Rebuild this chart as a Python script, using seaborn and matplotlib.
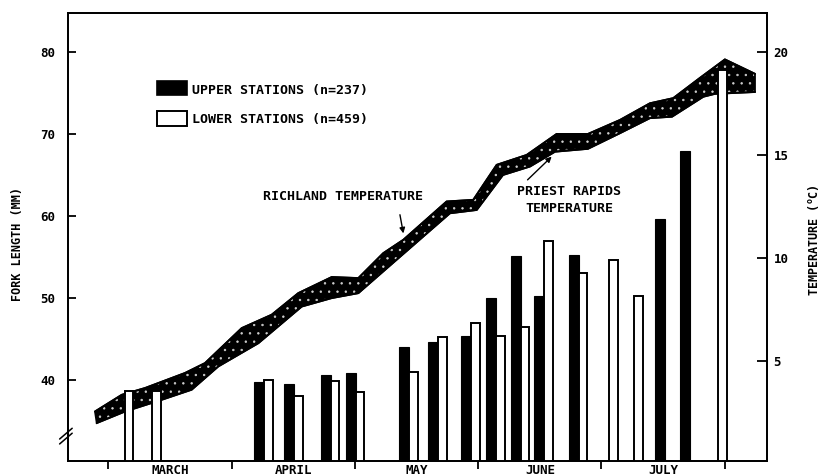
import numpy as np
import matplotlib
matplotlib.use("Agg")
import matplotlib.pyplot as plt
import seaborn as sns
from matplotlib.patches import Rectangle

nan = np.nan

# ---- data (x in months since 1 March) ----
sample_month = [0.135, 0.357, 1.263, 1.508, 1.804, 2.006, 2.441, 2.676, 2.944,
                3.147, 3.347, 3.536, 3.815, 4.063, 4.266, 4.517, 4.718, 4.947]
upper_len = [nan, nan, 39.8, 39.5, 40.6, 40.9, 44.0, 44.6, 45.4,
             50.0, 55.1, 50.2, 55.2, nan, nan, 59.7, 68.0, nan]
lower_len = [38.7, 38.7, 40.0, 38.0, 39.9, 38.5, 41.0, 45.3, 47.0,
             45.4, 46.5, 57.0, 53.0, 54.7, 50.2, nan, nan, 77.8]

richland_month = [-0.108, 0.109, 0.298, 0.622, 0.784, 1.082, 1.325, 1.541, 1.812,
                  2.028, 2.230, 2.393, 2.744, 2.960, 3.150, 3.393, 3.636, 3.890,
                  4.150, 4.393, 4.582, 4.798, 5.001, 5.245]
richland_temp = [2.55, 3.36, 3.69, 4.42, 4.90, 6.60, 7.25, 8.30, 9.08,
                 9.03, 10.24, 10.89, 12.75, 12.83, 14.53, 15.01, 16.03, 16.03,
                 16.71, 17.52, 17.77, 18.75, 19.65, 18.95]

priest_month = [-0.094, 0.135, 0.433, 0.676, 0.892, 1.217, 1.569, 1.812, 2.028,
                2.244, 2.771, 2.988, 3.201, 3.420, 3.623, 3.890, 4.150, 4.393,
                4.572, 4.826, 4.920, 5.245]
priest_temp = [1.99, 2.55, 3.12, 3.61, 4.74, 5.87, 7.65, 8.06, 8.30,
               9.43, 12.18, 12.34, 14.04, 14.45, 15.17, 15.31, 16.07, 16.80,
               16.87, 17.84, 17.98, 18.07]

month_names = ["MARCH", "APRIL", "MAY", "JUNE", "JULY"]
month_edges = [0, 1, 2, 3, 4, 5]
length_ticks = [40, 50, 60, 70, 80]
temp_ticks = [5, 10, 15, 20]

# ---- style ----
sns.set_style("ticks")
FONT = "DejaVu Sans Mono"
plt.rcParams["font.family"] = [FONT]
plt.rcParams["font.weight"] = "bold"
plt.rcParams["hatch.linewidth"] = 0.5
for k in ("text.color", "axes.labelcolor", "xtick.color", "ytick.color",
          "axes.edgecolor"):
    plt.rcParams[k] = "black"

fig = plt.figure(figsize=(8.21, 4.76), dpi=100)
ax = fig.add_axes([68 / 821, 15 / 476, 698.7 / 821, 448.5 / 476])
ax2 = ax.twinx()
ax.set_zorder(ax2.get_zorder() + 1)
ax.patch.set_visible(False)

ax.set_xlim(-0.327, 5.340)
ax.set_ylim(30.1, 84.86)
ax2.set_ylim(0.146, 21.93)

# ---- temperature band (right axis) ----
poly_x = np.r_[richland_month, priest_month[::-1]]
poly_y = np.r_[richland_temp, priest_temp[::-1]]
ax2.fill(poly_x, poly_y, facecolor="black", edgecolor="#d0d0d0", hatch="..",
         linewidth=0, zorder=1)
ax2.fill(poly_x, poly_y, facecolor="none", edgecolor="black", linewidth=1.3, zorder=2)
sns.lineplot(x=richland_month, y=richland_temp, ax=ax2, sort=False,
             color="black", linewidth=1.4, zorder=3)
sns.lineplot(x=priest_month, y=priest_temp, ax=ax2, sort=False,
             color="black", linewidth=1.4, zorder=3)

# ---- bars (left axis) ----
wb = 0.081
ww = 0.069
base = 30.1
sm = np.array(sample_month)
ul = np.array(upper_len)
ll = np.array(lower_len)
mu = ~np.isnan(ul)
ml = ~np.isnan(ll)
ax.bar(sm[mu], ul[mu] - base, bottom=base, width=-wb, align="edge",
       color="black", edgecolor="black", linewidth=0.8, zorder=3)
ax.bar(sm[ml], ll[ml] - base, bottom=base, width=ww, align="edge",
       color="white", edgecolor="black", linewidth=1.4, zorder=3)

# ---- axes, ticks ----
for a in (ax, ax2):
    for s in a.spines.values():
        s.set_visible(True)
        s.set_linewidth(1.3)
        s.set_color("black")

ax.set_yticks(length_ticks)
ax.set_yticklabels([str(v) for v in length_ticks])
ax.tick_params(axis="y", direction="in", length=6, width=1.3, pad=9,
               labelsize=9, colors="black")
ax2.set_yticks(temp_ticks)
ax2.set_yticklabels([str(v) for v in temp_ticks])
ax2.tick_params(axis="y", direction="in", length=7, width=1.3, pad=5,
                labelsize=9, colors="black")

ax.set_xticks(month_edges)
ax.set_xticklabels([])
ax.set_xticks([m + 0.5 for m in range(len(month_names))], minor=True)
ax.set_xticklabels(month_names, minor=True)
ax.tick_params(axis="x", which="major", direction="out", length=6, width=1.3)
ax.tick_params(axis="x", which="minor", length=0, pad=2, labelsize=9,
               colors="black")
ax.tick_params(top=False)
ax2.tick_params(axis="x", top=False, bottom=False)

fig.text(17 / 821, 1 - 244 / 476, "FORK LENGTH (MM)", rotation=90,
         ha="center", va="center", fontsize=8.5, family=FONT, weight="bold")
fig.text(813 / 821, 1 - 240 / 476, "TEMPERATURE ($^{\\mathregular{o}}$C)",
         rotation=90, ha="center", va="center", fontsize=8.5, family=FONT,
         weight="bold")

# axis break mark
for dy in (0.0, 0.011):
    ax.plot([-0.012, 0.006], [0.038 + dy, 0.062 + dy], transform=ax.transAxes,
            color="black", lw=1.1, clip_on=False, zorder=5)

# ---- legend ----
ax.add_patch(Rectangle((0.127, 0.816), 0.043, 0.031, transform=ax.transAxes,
                       facecolor="black", edgecolor="black", lw=1.2, zorder=5))
ax.add_patch(Rectangle((0.127, 0.747), 0.043, 0.034, transform=ax.transAxes,
                       facecolor="white", edgecolor="black", lw=1.4, zorder=5))
ax.text(0.177, 0.827, "UPPER STATIONS (n=237)", transform=ax.transAxes,
        ha="left", va="center", fontsize=9.5)
ax.text(0.177, 0.7625, "LOWER STATIONS (n=459)", transform=ax.transAxes,
        ha="left", va="center", fontsize=9.5)

# ---- annotations ----
ax2.annotate("RICHLAND TEMPERATURE", xy=(2.393, 11.2), xytext=(1.907, 12.98),
             ha="center", va="center", fontsize=9.5,
             arrowprops=dict(arrowstyle="-|>", color="black", lw=1.0,
                             mutation_scale=8, shrinkA=6, shrinkB=0,
                             relpos=(0.84, 0.0)))
ax2.annotate("PRIEST RAPIDS\nTEMPERATURE", xy=(3.596, 14.93), xytext=(3.736, 12.82),
             ha="center", va="center", fontsize=9.5, linespacing=1.4,
             arrowprops=dict(arrowstyle="-|>", color="black", lw=1.0,
                             mutation_scale=8, shrinkA=2, shrinkB=0,
                             relpos=(0.05, 1.0)))

fig.savefig("out.png", dpi=100)
